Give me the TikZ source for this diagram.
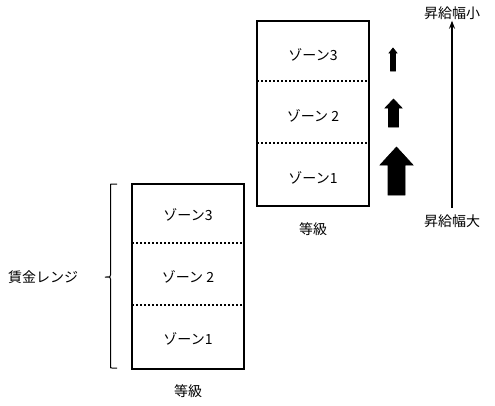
\documentclass[tikz,border=0pt]{standalone}
\usepackage{fontspec}
\setmainfont{Noto Sans CJK JP}
\usetikzlibrary{arrows.meta}
\tikzset{
  lbl/.style={font=\fontsize{10.5pt}{12pt}\selectfont, inner sep=0.75pt},
  zonesep/.style={line width=1.5, dash pattern=on 1.5pt off 1.5pt}
}

\begin{document}
\begin{tikzpicture}[x=0.75pt,y=0.75pt,yscale=-1,xscale=1]
\path [use as bounding box] (0,0) rectangle (495,405);

%Shape: Rectangle (grade, right)
\draw [line width=0.9]  (257,21) rectangle (369,206) ;
\draw [zonesep]  (257,80.5) -- (369,80.5) ;
\draw [zonesep]  (257,142.5) -- (369,142.5) ;
%Shape: Rectangle (grade, left)
\draw [line width=0.9]  (132,184) rectangle (244,369) ;
\draw [zonesep]  (132,242.5) -- (244,242.5) ;
\draw [zonesep]  (132,304.5) -- (244,304.5) ;

%Shape: Bracket
\draw [line width=0.75]  (117,184) -- (112,184) .. controls (110.5,184) .. (110.5,186) -- (110.5,275) .. controls (110.5,277) .. (105,277) .. controls (110.5,277) .. (110.5,279) -- (110.5,366) .. controls (110.5,368) .. (112,368) -- (117,368) ;

%Shape: Up Arrow (small)
\draw [fill=black, line width=0.5]  (393,48) -- (397,53) -- (395.5,53) -- (395.5,71) -- (390.5,71) -- (390.5,53) -- (389,53) -- cycle ;
%Shape: Up Arrow (medium)
\draw [fill=black, line width=0.5]  (393.5,99) -- (402,108) -- (398.5,108) -- (398.5,127) -- (388.5,127) -- (388.5,108) -- (385,108) -- cycle ;
%Shape: Up Arrow (large)
\draw [fill=black, line width=0.5]  (396.5,147) -- (413,165) -- (405,165) -- (405,195) -- (388,195) -- (388,165) -- (380,165) -- cycle ;

% Text Node
\draw (313,55) node [lbl] (rzone3) {ゾーン3};
% Text Node
\draw (313,116) node [lbl] (rzone2) {ゾーン 2};
% Text Node
\draw (313,178) node [lbl] (rzone1) {ゾーン1};
% Text Node
\draw (313,229) node [lbl] (rgrade) {等級};
% Text Node
\draw (188,215) node [lbl] (lzone3) {ゾーン3};
% Text Node
\draw (188,277) node [lbl] (lzone2) {ゾーン 2};
% Text Node
\draw (188,339) node [lbl] (lzone1) {ゾーン1};
% Text Node
\draw (188,391) node [lbl] (lgrade) {等級};
% Text Node
\draw (43,277) node [lbl] (range) {賃金レンジ};
% Text Node
\draw (452,13) node [lbl] (small) {昇給幅小};
% Text Node
\draw (452,221) node [lbl] (large) {昇給幅大};

%Straight Lines (raise scale)
\draw [line width=0.9, -{Stealth[length=6pt,width=4.5pt]}, shorten <=4pt]  (large) -- (small) ;

\end{tikzpicture}
\end{document}
